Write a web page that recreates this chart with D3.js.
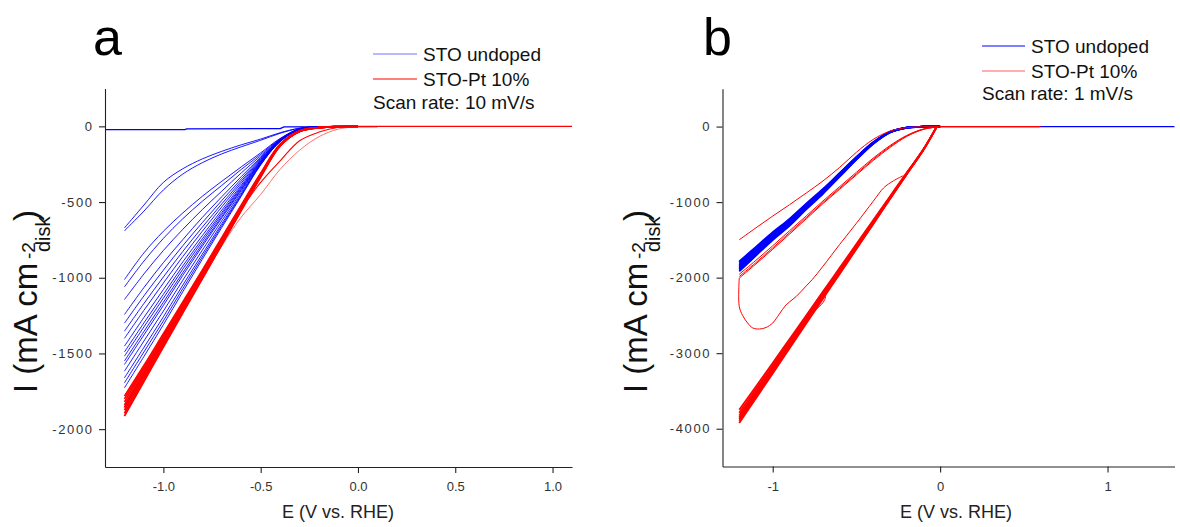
<!DOCTYPE html>
<html><head><meta charset="utf-8">
<script src="https://cdn.jsdelivr.net/npm/d3@7"></script>
<style>
body{margin:0;background:#fff}
text{font-family:Arial,"Liberation Sans",sans-serif}
</style>
</head><body>
<svg id="c" width="1180" height="527"></svg>
<script>
// ---------------- Panel a : scan rate 10 mV/s ----------------
const aXTicks = [-1.0,-0.5,0.0,0.5,1.0];
const aXTickLabels = ["-1.0","-0.5","0.0","0.5","1.0"];
const aXMinor = [-1.25,-0.75,-0.25,0.25,0.75];
const aYTicks = [0,-500,-1000,-1500,-2000];
const aYTickLabels = ["0","-500","-1000","-1500","-2000"];
const aYMinor = [250,-250,-750,-1250,-1750,-2250];

const aBlueE = [-1.2,-1.1,-1.0,-0.9,-0.8,-0.7,-0.6,-0.5,-0.4,-0.3,-0.2,-0.1];
const aBlueCurves = [
  [-671,-520,-370,-280,-215,-165,-122,-84,-42,-12,-3,-1],
  [-690,-560,-420,-315,-240,-182,-135,-92,-46,-13,-3,-1],
  [-1012,-836,-693,-572,-462,-363,-268,-175,-80,-16,-3,-1],
  [-1060,-890,-740,-610,-495,-390,-285,-185,-83,-16,-3,-1],
  [-1144,-975,-820,-680,-550,-428,-308,-195,-86,-17,-3,-1],
  [-1243,-1065,-900,-748,-602,-465,-332,-205,-88,-17,-3,-1],
  [-1300,-1120,-950,-788,-636,-490,-348,-212,-90,-17,-3,-1],
  [-1353,-1170,-995,-826,-666,-512,-362,-218,-91,-18,-3,-1],
  [-1400,-1215,-1035,-860,-693,-532,-375,-223,-92,-18,-3,-1],
  [-1452,-1262,-1078,-895,-722,-553,-389,-228,-93,-18,-3,-1],
  [-1490,-1298,-1110,-922,-743,-569,-399,-232,-94,-18,-3,-1],
  [-1518,-1325,-1135,-943,-760,-581,-407,-236,-95,-19,-3,-1],
  [-1550,-1355,-1162,-966,-778,-595,-416,-240,-96,-19,-3,-1],
  [-1573,-1378,-1183,-984,-792,-605,-423,-243,-97,-19,-3,-1],
  [-1617,-1418,-1220,-1016,-818,-624,-435,-247,-98,-19,-3,-1],
  [-1661,-1460,-1258,-1048,-844,-643,-447,-250,-99,-19,-3,-1],
  [-1694,-1490,-1285,-1071,-862,-656,-455,-253,-100,-20,-3,-1],
  [-1727,-1520,-1310,-1092,-878,-668,-462,-255,-100,-20,-3,-1]
];
const aBlueFlat = [[-1.3,-22],[-0.89,-21],[-0.88,-17],[-0.40,-15],[-0.38,-4],[0.10,-2]];

const aRedE = [-1.2,-1.1,-1.0,-0.9,-0.8,-0.7,-0.6,-0.5,-0.4,-0.3,-0.2,-0.1,0.0];
const aRedBand = [
  [-1782,-1580,-1370,-1160,-950,-735,-520,-310,-118,-30,-8,-1,0],
  [-1800,-1595,-1385,-1172,-960,-745,-528,-315,-120,-31,-8,-1,0],
  [-1820,-1610,-1398,-1184,-970,-753,-535,-320,-123,-32,-8,-1,0],
  [-1840,-1626,-1410,-1195,-978,-760,-540,-324,-125,-32,-8,-1,0],
  [-1858,-1640,-1422,-1205,-986,-766,-545,-327,-126,-33,-8,-1,0],
  [-1875,-1655,-1433,-1213,-993,-772,-549,-330,-128,-33,-9,-1,0],
  [-1895,-1670,-1445,-1222,-1000,-777,-553,-333,-129,-34,-9,-1,0],
  [-1914,-1686,-1458,-1232,-1007,-782,-557,-335,-130,-34,-9,-1,0]
];
const aRedOffset = [-1850,-1635,-1420,-1205,-990,-770,-548,-370,-228,-95,-38,-6,0];
const aRedLight = [-1905,-1680,-1455,-1230,-1010,-790,-600,-450,-284,-158,-68,-18,-1];
const aRedFlat = [[-0.1,0],[1.1,0]];

// ---------------- Panel b : scan rate 1 mV/s ----------------
const bXTicks = [-1,0,1];
const bXTickLabels = ["-1","0","1"];
const bXMinor = [-0.5,0.5];
const bYTicks = [0,-1000,-2000,-3000,-4000];
const bYTickLabels = ["0","-1000","-2000","-3000","-4000"];
const bYMinor = [500,-500,-1500,-2500,-3500,-4500];

const bE = [-1.2,-1.1,-1.0,-0.9,-0.8,-0.7,-0.6,-0.5,-0.4,-0.3,-0.2,-0.1,0.0];
const bBlueBand = [
  [-1786,-1592,-1398,-1222,-1020,-826,-614,-402,-208,-70,-13,-2,0],
  [-1800,-1605,-1410,-1233,-1029,-834,-620,-406,-211,-71,-14,-2,0],
  [-1815,-1618,-1421,-1243,-1037,-841,-625,-410,-213,-72,-14,-2,0],
  [-1830,-1631,-1432,-1253,-1045,-848,-631,-414,-216,-73,-14,-2,0],
  [-1845,-1644,-1444,-1263,-1054,-855,-636,-418,-218,-74,-15,-2,0],
  [-1860,-1657,-1456,-1274,-1063,-862,-642,-422,-221,-75,-15,-2,0],
  [-1874,-1669,-1467,-1284,-1071,-869,-647,-426,-223,-76,-15,-2,0],
  [-1889,-1682,-1478,-1294,-1080,-876,-652,-430,-226,-77,-16,-2,0],
  [-1903,-1695,-1490,-1304,-1088,-883,-658,-434,-228,-78,-16,-2,0],
  [-1918,-1708,-1502,-1315,-1097,-890,-664,-438,-231,-79,-16,-2,0]
];
const bBlueFlat = [[-0.1,0],[1.4,0]];

const bRedTop = [-1499,-1340,-1185,-1035,-880,-720,-540,-340,-170,-60,-15,-2,0];
const bRedUpper = [
  [-1955,-1770,-1578,-1380,-1183,-985,-795,-605,-418,-252,-118,-32,0],
  [-1985,-1800,-1606,-1405,-1205,-1005,-815,-625,-435,-265,-125,-35,0],
  [-2006,-1818,-1625,-1425,-1222,-1020,-830,-640,-450,-278,-132,-38,0]
];
const bRedLoop = [[-1.2,-2006],[-1.2,-2380],[-1.18,-2500],[-1.15,-2600],[-1.12,-2665],[-1.08,-2680],
  [-1.04,-2660],[-1.0,-2600],[-0.96,-2480],[-0.92,-2360],[-0.86,-2250],[-0.80,-2110],[-0.765,-2028],
  [-0.70,-1850],[-0.60,-1560],[-0.50,-1280],[-0.40,-990],[-0.337,-811],[-0.28,-720],[-0.22,-650]];
const bBandE = [-1.2,-1.1,-1.0,-0.9,-0.8,-0.7,-0.6,-0.5,-0.4,-0.3,-0.2,-0.1,-0.02];
const bRedBand = [
  [-3750,-3440,-3130,-2815,-2500,-2185,-1870,-1555,-1240,-925,-610,-300,0],
  [-3790,-3475,-3160,-2840,-2525,-2205,-1890,-1570,-1255,-935,-618,-304,0],
  [-3825,-3505,-3190,-2868,-2548,-2226,-1906,-1585,-1265,-943,-622,-305,0],
  [-3850,-3530,-3210,-2888,-2565,-2240,-1918,-1595,-1272,-948,-625,-306,0],
  [-3870,-3550,-3225,-2900,-2577,-2252,-1928,-1603,-1278,-952,-627,-307,0],
  [-3895,-3570,-3245,-2918,-2592,-2265,-1938,-1612,-1285,-957,-630,-308,0],
  [-3925,-3595,-3268,-2938,-2608,-2278,-1950,-1620,-1292,-962,-633,-310,0]
];
const bRedBump = [[-0.86,-2700],[-0.80,-2560],[-0.75,-2440],[-0.70,-2330],[-0.685,-2250],[-0.70,-2190]];
const bRedFlat = [[-0.02,0],[0.6,0]];

// ---------------- drawing ----------------
const svg = d3.select("#c");
const BLUE = "#0000ff", RED = "#ff0000";

function zipE(es, vals){ return es.map((e,i)=>[e, vals[i]]); }

function panel(o){
  const x = d3.scaleLinear().domain(o.xDom).range(o.xRange);
  const y = d3.scaleLinear().domain(o.yDom).range(o.yRange);
  const g = svg.append("g");
  const line = d3.line().x(d=>x(d[0])).y(d=>y(d[1])).curve(d3.curveCatmullRom.alpha(0.5));
  const lin = d3.line().x(d=>x(d[0])).y(d=>y(d[1]));
  o.series.forEach(s=>{
    g.append("path").attr("d", (s.linear?lin:line)(s.pts))
      .attr("fill","none").attr("stroke",s.color).attr("stroke-width",s.w||1)
      .attr("stroke-opacity",s.op||1).attr("stroke-linejoin","round");
  });
  // axes
  const fmtX = (d,i)=>o.xLabels[i];
  const fmtY = (d,i)=>o.yLabels[i];
  const ax = g.append("g").attr("transform",`translate(0,${o.yRange[0]})`);
  ax.call(d3.axisBottom(x).tickValues(o.xMinor).tickFormat("").tickSize(3.5).tickSizeOuter(0));
  ax.call(d3.axisBottom(x).tickValues(o.xTicks).tickFormat(fmtX).tickSize(6).tickSizeOuter(0).tickPadding(9));
  const ay = g.append("g").attr("transform",`translate(${o.xRange[0]},0)`);
  ay.call(d3.axisLeft(y).tickValues(o.yMinor).tickFormat("").tickSize(3.5).tickSizeOuter(0));
  ay.call(d3.axisLeft(y).tickValues(o.yTicks).tickFormat(fmtY).tickSize(6).tickSizeOuter(0).tickPadding(5.4));
  [ax,ay].forEach(a=>{
    a.attr("font-family",null).attr("font-size",null);
    a.selectAll("path,line").attr("stroke","#222").attr("stroke-width",1.1);
    a.selectAll("text").attr("font-size",13).attr("fill","#333");
  });
  ay.selectAll("text").attr("letter-spacing","1.6px");
  // x title
  g.append("text").attr("x",o.xTitleX).attr("y",518).attr("text-anchor","middle")
    .attr("font-size",18).attr("fill","#222").text("E (V vs. RHE)");
  // y title (rotated)
  const yt = g.append("g").attr("transform",`translate(${o.yTitleX},393) rotate(-90)`);
  yt.append("text").attr("x",0).attr("y",0).attr("font-size",33).attr("fill","#111").text("I (mA cm");
  yt.append("text").attr("x",134).attr("y",-2).attr("font-size",19).attr("fill","#111").text("-2");
  yt.append("text").attr("x",141).attr("y",13).attr("font-size",20).attr("fill","#111").text("disk");
  yt.append("text").attr("x",172).attr("y",0).attr("font-size",33).attr("fill","#111").text(")");
  // panel letter
  g.append("text").attr("x",o.letterX).attr("y",55).attr("font-size",52).attr("fill","#000").text(o.letter);
  // legend
  const L = o.legend;
  L.rows.forEach((r,i)=>{
    g.append("line").attr("x1",L.lx1).attr("x2",L.lx2).attr("y1",L.ys[i]).attr("y2",L.ys[i])
      .attr("stroke",r.color).attr("stroke-width",1.2);
    g.append("text").attr("x",L.tx).attr("y",L.ys[i]+6.5).attr("font-size",19).attr("fill","#111").text(r.label);
  });
  g.append("text").attr("x",L.lx1).attr("y",L.scanY).attr("font-size",19).attr("fill","#111").text(L.scan);
}

// Panel a series
const aSeries = [];
aSeries.push({pts:aBlueFlat, color:BLUE, w:1.3, linear:true});
aBlueCurves.forEach(c=>aSeries.push({pts:zipE(aBlueE,c), color:BLUE, w:0.9}));
aSeries.push({pts:zipE(aRedE,aRedLight), color:"#ff7070", w:1});
aSeries.push({pts:zipE(aRedE,aRedOffset), color:RED, w:1.1});
aRedBand.forEach(c=>aSeries.push({pts:zipE(aRedE,c), color:RED, w:1.7}));
aSeries.push({pts:aRedFlat, color:RED, w:1.3, linear:true});

panel({
  xDom:[-1.3,1.1], xRange:[105,572], yDom:[-2250,250], yRange:[467,88.5],
  xTicks:aXTicks, xLabels:aXTickLabels, xMinor:aXMinor,
  yTicks:aYTicks, yLabels:aYTickLabels, yMinor:aYMinor,
  series:aSeries, xTitleX:338, yTitleX:37, letter:"a", letterX:93,
  legend:{lx1:373, lx2:417, tx:423, ys:[54,79], scanY:108.5, scan:"Scan rate: 10 mV/s",
    rows:[{color:"#7575ff",label:"STO undoped"},{color:RED,label:"STO-Pt 10%"}]}
});

// Panel b series
const bSeries = [];
bSeries.push({pts:bBlueFlat, color:BLUE, w:1.3, linear:true});
bBlueBand.forEach(c=>bSeries.push({pts:zipE(bE,c), color:BLUE, w:1.8}));
bSeries.push({pts:zipE(bE,bRedTop), color:RED, w:1});
bRedUpper.forEach(c=>bSeries.push({pts:zipE(bE,c), color:RED, w:1}));
bSeries.push({pts:bRedLoop, color:RED, w:1});
bRedBand.forEach(c=>bSeries.push({pts:zipE(bBandE,c), color:RED, w:1.8}));
bSeries.push({pts:bRedBump, color:RED, w:1});
bSeries.push({pts:bRedFlat, color:RED, w:1.3, linear:true});

panel({
  xDom:[-1.3,1.4], xRange:[722.5,1174.5], yDom:[-4500,500], yRange:[466.5,88.8],
  xTicks:bXTicks, xLabels:bXTickLabels, xMinor:bXMinor,
  yTicks:bYTicks, yLabels:bYTickLabels, yMinor:bYMinor,
  series:bSeries, xTitleX:956, yTitleX:647, letter:"b", letterX:703,
  legend:{lx1:982, lx2:1025, tx:1031, ys:[46,71], scanY:100, scan:"Scan rate: 1 mV/s",
    rows:[{color:BLUE,label:"STO undoped"},{color:"#ff6060",label:"STO-Pt 10%"}]}
});
</script>
</body></html>
